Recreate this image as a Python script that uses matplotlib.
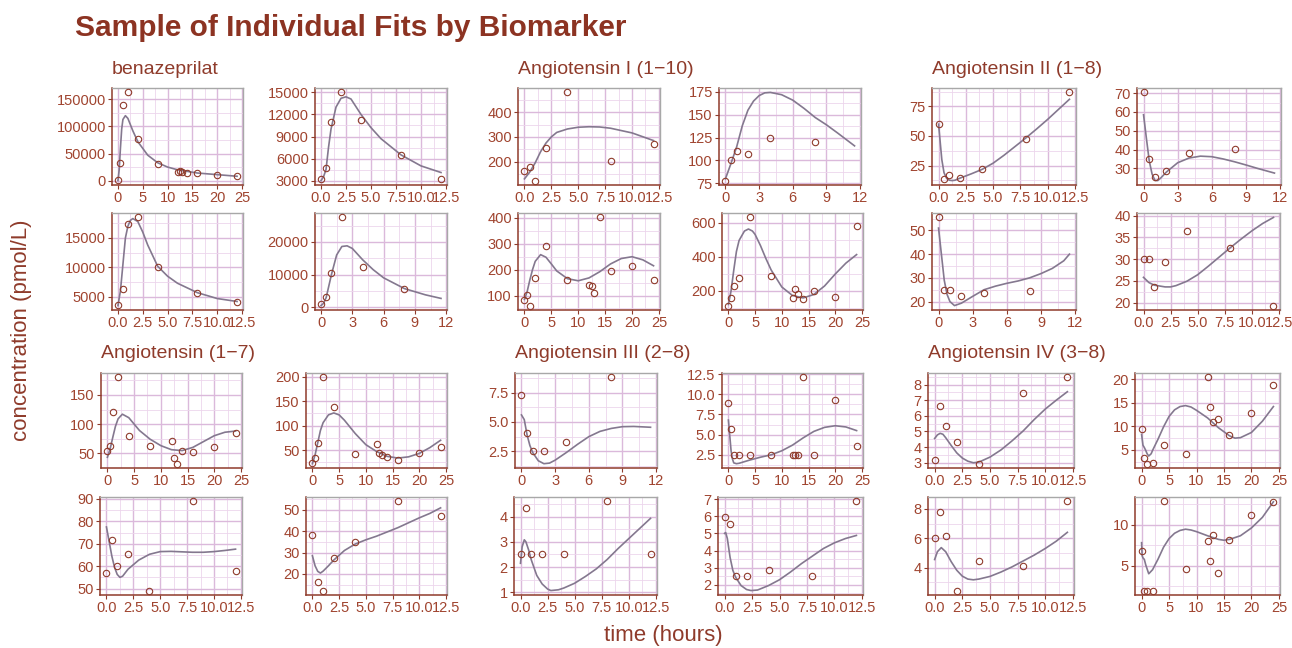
import numpy as np
import matplotlib.pyplot as plt

plt.rcParams['font.family'] = ['Liberation Sans', 'DejaVu Sans']

# sampling times (hours)
t_24h = [0, 0.5, 1, 2, 4, 8, 12, 12.5, 13, 14, 16, 20, 24]
t_12h = [0, 0.5, 1, 2, 4, 8, 12]
t_8h = [0, 0.5, 1, 2, 4, 8]

group_titles = ['benazeprilat', 'Angiotensin I (1\u221210)', 'Angiotensin II (1\u22128)',
                'Angiotensin (1\u22127)', 'Angiotensin III (2\u22128)', 'Angiotensin IV (3\u22128)']

# observed concentrations, 4 subjects per biomarker
bz1_obs = [1000, 33000, 140000, 163000, 77000, 30000, 16500, 17500, 16000, 14500, 14000, 10000, 8000]
bz2_obs = [3200, 4700, 11000, 15000, 11300, 6550, 3270]
bz3_obs = [3550, 6280, 17400, 18500, 10000, 5640, 4070]
bz4_obs = [1140, 3100, 10600, 27500, 12400, 5500]

a110_1_obs = [162, 180, 123, 254, 480, 203, 273]
a110_2_obs = [78, 100, 110, 107.5, 125, 120]
a110_3_obs = [81, 103, 61, 167, 290, 160, 141, 135, 109, 402, 193, 215, 161]
a110_4_obs = [113, 160, 225, 275, 630, 287, 160, 210, 180, 153, 196, 163, 580]

a18_1_obs = [60, 13.8, 16.9, 14.6, 22.2, 47.8, 86.8]
a18_2_obs = [70.4, 35.2, 25.2, 28.6, 38, 40.5]
a18_3_obs = [55.5, 24.9, 24.9, 22.5, 23.5, 24.5]
a18_4_obs = [30.1, 30.1, 23.5, 29.4, 36.4, 32.5, 19.3]

a17_1_obs = [53.4, 63, 120.8, 180.3, 78.7, 63, 71.3, 42, 32, 54.5, 51.7, 60, 85.4]
a17_2_obs = [23.3, 33.3, 65.3, 199, 138.7, 42.7, 63.3, 43.3, 40, 34.7, 29.3, 43.3, 56]
a17_3_obs = [57.1, 71.5, 60, 65.5, 49.1, 88.9, 57.9]
a17_4_obs = [38.1, 16.3, 12.2, 27.5, 34.8, 54, 47.1]

a28_1_obs = [7.3, 4.1, 2.5, 2.5, 3.3, 8.8]
a28_2_obs = [8.9, 5.7, 2.5, 2.5, 2.5, 2.5, 2.5, 2.5, 2.5, 12.1, 2.5, 9.3, 3.6]
a28_3_obs = [2.5, 4.36, 2.5, 2.5, 2.5, 4.6, 2.5]
a28_4_obs = [5.94, 5.55, 2.5, 2.5, 2.84, 2.5, 6.86]

a38_1_obs = [3.19, 6.62, 5.36, 4.34, 2.94, 7.48, 8.46]
a38_2_obs = [9.38, 3.26, 2.08, 2.22, 6.11, 4.17, 20.4, 14.2, 10.9, 11.6, 8.19, 12.8, 18.7]
a38_3_obs = [6.0, 7.77, 6.16, 2.44, 4.48, 4.11, 8.5]
a38_4_obs = [6.82, 1.95, 1.95, 1.95, 12.84, 4.58, 8.0, 5.55, 8.73, 4.07, 8.14, 11.19, 12.75]

# model fits (time, prediction)
bz1_fit_t = [0, 0.25, 0.5, 0.75, 1, 1.5, 2, 3, 4, 6, 8, 10, 12, 16, 20, 24]
bz1_fit = [0, 20000, 60000, 95000, 113000, 120000, 115000, 92000, 72000, 47000, 33000, 25000, 20000, 14000, 11000, 8000]
bz2_fit_t = [0, 0.25, 0.5, 0.75, 1, 1.5, 2, 2.5, 3, 4, 5, 6, 8, 10, 12]
bz2_fit = [3000, 3500, 4500, 7500, 10000, 13000, 14200, 14400, 14100, 12000, 10200, 8700, 6500, 5000, 4100]
bz3_fit_t = [0, 0.25, 0.5, 0.75, 1, 1.25, 1.5, 2, 2.5, 3, 4, 5, 6, 8, 10, 12]
bz3_fit = [3500, 6000, 10500, 15000, 17000, 18000, 18300, 17800, 16000, 13800, 10200, 8500, 7300, 5700, 4700, 4200]
bz4_fit_t = [0, 0.25, 0.5, 0.75, 1, 1.5, 2, 2.5, 3, 4, 5, 6, 8, 10, 11.5]
bz4_fit = [500, 1200, 3000, 6500, 10000, 16000, 18600, 18800, 18000, 14500, 11500, 9000, 5700, 3800, 2700]

a110_1_fit_t = [0, 0.5, 1, 1.5, 2, 2.5, 3, 4, 5, 6, 7, 8, 10, 12]
a110_1_fit = [130, 158, 195, 240, 275, 300, 318, 332, 339, 341, 340, 335, 316, 285]
a110_2_fit_t = [0, 0.5, 1, 1.5, 2, 2.5, 3, 3.5, 4, 5, 6, 7, 8, 9, 10, 11.5]
a110_2_fit = [80, 97, 115, 138, 155, 165, 171, 174, 174.5, 172, 166, 157, 147, 139, 130, 116]
a110_3_fit_t = [0, 0.5, 1, 1.5, 2, 3, 4, 5, 6, 8, 10, 12, 14, 16, 18, 20, 22, 24]
a110_3_fit = [85, 115, 160, 200, 232, 258, 248, 222, 195, 165, 157, 168, 192, 222, 243, 250, 238, 215]
a110_4_fit_t = [0, 0.5, 1, 1.5, 2, 3, 3.75, 4.5, 5, 6, 7, 8, 10, 12, 14, 16, 18, 20, 22, 24]
a110_4_fit = [120, 200, 320, 430, 495, 550, 562, 550, 530, 465, 390, 322, 222, 172, 158, 178, 228, 298, 362, 412]

a18_1_fit_t = [0, 0.15, 0.3, 0.5, 0.75, 1, 1.25, 1.5, 2, 3, 4, 5, 6, 7, 8, 9, 10, 11, 12]
a18_1_fit = [60, 45, 30, 19, 14, 12.6, 12.3, 12.6, 14.5, 18, 21.8, 27, 33.7, 41, 48.3, 56, 64, 72.5, 81]
a18_2_fit_t = [0, 0.25, 0.5, 0.75, 1, 1.25, 1.5, 2, 3, 4, 5, 6, 7, 8, 9, 10, 11.5]
a18_2_fit = [58.5, 46, 34, 27, 23.6, 23.5, 24.8, 28, 33, 35.5, 36.5, 36.2, 35, 33.5, 31.8, 30, 27.5]
a18_3_fit_t = [0, 0.25, 0.5, 0.75, 1, 1.4, 2, 3, 4, 5, 6, 7, 8, 9, 10, 11, 11.5]
a18_3_fit = [51, 40, 29, 23, 20, 18.3, 19.3, 22.2, 25, 26.5, 27.7, 28.7, 30, 31.8, 34, 37.2, 40]
a18_4_fit_t = [0, 0.5, 1, 1.5, 2, 2.5, 3, 4, 5, 6, 7, 8, 9, 10, 11, 12]
a18_4_fit = [25.8, 24.6, 24, 23.8, 23.6, 23.6, 23.9, 24.9, 26.4, 28.4, 30.5, 32.6, 34.6, 36.5, 38.2, 39.6]

a17_1_fit_t = [0, 0.5, 1, 1.5, 2, 2.8, 4, 5, 6, 8, 10, 12, 14, 16, 18, 20, 22, 24]
a17_1_fit = [43, 57, 77, 96, 109, 117, 111, 100, 89, 74, 63, 56, 54.5, 60, 70, 80, 86, 88]
a17_2_fit_t = [0, 0.5, 1, 1.5, 2, 3, 4, 5, 6, 8, 10, 12, 14, 16, 18, 20, 22, 24]
a17_2_fit = [22, 40, 65, 90, 106, 122, 126, 122, 111, 84, 61, 47, 37, 33.5, 36, 43, 55, 70]
a17_3_fit_t = [0, 0.25, 0.5, 0.75, 1, 1.25, 1.5, 2, 3, 4, 5, 6, 7, 8, 9, 10, 11, 12]
a17_3_fit = [77.5, 71, 64.5, 59.5, 56.3, 55, 55.5, 58.6, 62.7, 65.3, 66.5, 66.6, 66.4, 66.2, 66.2, 66.5, 67, 67.6]
a17_4_fit_t = [0, 0.25, 0.5, 0.75, 1, 1.5, 2, 3, 4, 5, 6, 7, 8, 9, 10, 11, 12]
a17_4_fit = [28.5, 23.8, 21.2, 20.4, 21.3, 23.8, 26.5, 31, 34, 36, 37.7, 39.7, 41.7, 44, 46.3, 48.4, 51]

a28_1_fit_t = [0, 0.25, 0.5, 0.75, 1, 1.5, 2, 2.5, 3, 4, 5, 6, 7, 8, 9, 10, 11.5]
a28_1_fit = [5.6, 5.2, 3.9, 3.0, 2.4, 1.7, 1.45, 1.5, 1.75, 2.4, 3.1, 3.75, 4.2, 4.45, 4.6, 4.62, 4.55]
a28_2_fit_t = [0, 0.25, 0.5, 0.75, 1, 1.5, 2, 4, 6, 8, 10, 12, 14, 16, 18, 20, 22, 24]
a28_2_fit = [6.8, 4.9, 3.0, 2.0, 1.5, 1.4, 1.45, 1.85, 2.2, 2.5, 3.0, 3.7, 4.6, 5.4, 5.9, 6.1, 5.95, 5.5]
a28_3_fit_t = [0, 0.15, 0.35, 0.5, 0.75, 1, 1.5, 2, 2.5, 2.8, 3.5, 4, 5, 6, 7, 8, 9, 10, 11, 12]
a28_3_fit = [2.15, 2.8, 3.08, 3.0, 2.68, 2.28, 1.67, 1.33, 1.13, 1.07, 1.1, 1.17, 1.36, 1.63, 1.93, 2.3, 2.73, 3.13, 3.53, 3.93]
a28_4_fit_t = [0, 0.1, 0.25, 0.5, 0.75, 1, 1.5, 2, 2.4, 3, 4, 5, 6, 7, 8, 9, 10, 11, 12]
a28_4_fit = [5.0, 5.05, 4.7, 3.6, 2.85, 2.45, 1.96, 1.73, 1.67, 1.7, 1.96, 2.3, 2.75, 3.24, 3.68, 4.12, 4.45, 4.7, 4.88]

a38_1_fit_t = [0, 0.25, 0.5, 0.75, 1, 1.5, 2, 2.5, 3, 3.5, 4, 5, 6, 7, 8, 9, 10, 11, 12]
a38_1_fit = [4.55, 4.78, 4.88, 4.82, 4.6, 4.1, 3.63, 3.3, 3.1, 3.0, 3.04, 3.36, 3.82, 4.4, 5.03, 5.76, 6.43, 7.0, 7.54]
a38_2_fit_t = [0, 0.25, 0.5, 0.75, 1, 1.3, 1.75, 2, 3, 4, 5, 6, 7, 8, 9, 10, 12, 14, 16, 17, 18, 20, 22, 24]
a38_2_fit = [8.3, 6.0, 5.5, 4.9, 4.2, 3.7, 4.2, 4.9, 7.3, 9.9, 12.1, 13.5, 14.2, 14.4, 14.1, 13.4, 11.8, 9.7, 8.0, 7.5, 7.6, 8.7, 11.1, 14.2]
a38_3_fit_t = [0, 0.25, 0.6, 1, 1.5, 2, 2.5, 3, 3.5, 4, 5, 6, 7, 8, 9, 10, 11, 12]
a38_3_fit = [4.55, 5.08, 5.36, 5.08, 4.4, 3.82, 3.42, 3.22, 3.17, 3.22, 3.4, 3.7, 4.05, 4.45, 4.85, 5.3, 5.8, 6.4]
a38_4_fit_t = [0, 0.1, 0.25, 0.5, 0.75, 1, 1.3, 2, 3, 4, 5, 6, 7, 8, 9, 10, 12, 14, 15, 16, 18, 20, 22, 24]
a38_4_fit = [7.8, 6.2, 5.95, 5.75, 5.1, 4.6, 4.0, 4.5, 5.8, 7.25, 8.3, 8.95, 9.3, 9.45, 9.35, 9.15, 8.65, 8.2, 8.1, 8.2, 8.65, 9.6, 10.9, 12.8]

# axis breaks
x_25 = [0, 5, 10, 15, 20, 25]
x_12 = [0, 3, 6, 9, 12]
x_125 = [0, 2.5, 5, 7.5, 10, 12.5]

# rows of panels: (obs times, obs, fit t, fit, x breaks, y breaks)
rows = [
    [(t_24h, bz1_obs, bz1_fit_t, bz1_fit, x_25, [0, 50000, 100000, 150000]),
     (t_12h, bz2_obs, bz2_fit_t, bz2_fit, x_125, [3000, 6000, 9000, 12000, 15000]),
     (t_12h, a110_1_obs, a110_1_fit_t, a110_1_fit, x_125, [200, 300, 400]),
     (t_8h, a110_2_obs, a110_2_fit_t, a110_2_fit, x_12, [75, 100, 125, 150, 175]),
     (t_12h, a18_1_obs, a18_1_fit_t, a18_1_fit, x_125, [25, 50, 75]),
     (t_8h, a18_2_obs, a18_2_fit_t, a18_2_fit, x_12, [30, 40, 50, 60, 70])],
    [(t_12h, bz3_obs, bz3_fit_t, bz3_fit, x_125, [5000, 10000, 15000]),
     (t_8h, bz4_obs, bz4_fit_t, bz4_fit, x_12, [0, 10000, 20000]),
     (t_24h, a110_3_obs, a110_3_fit_t, a110_3_fit, x_25, [100, 200, 300, 400]),
     (t_24h, a110_4_obs, a110_4_fit_t, a110_4_fit, x_25, [200, 400, 600]),
     (t_8h, a18_3_obs, a18_3_fit_t, a18_3_fit, x_12, [20, 30, 40, 50]),
     (t_12h, a18_4_obs, a18_4_fit_t, a18_4_fit, x_125, [20, 25, 30, 35, 40])],
    [(t_24h, a17_1_obs, a17_1_fit_t, a17_1_fit, x_25, [50, 100, 150]),
     (t_24h, a17_2_obs, a17_2_fit_t, a17_2_fit, x_25, [50, 100, 150, 200]),
     (t_8h, a28_1_obs, a28_1_fit_t, a28_1_fit, x_12, [2.5, 5.0, 7.5]),
     (t_24h, a28_2_obs, a28_2_fit_t, a28_2_fit, x_25, [2.5, 5.0, 7.5, 10.0, 12.5]),
     (t_12h, a38_1_obs, a38_1_fit_t, a38_1_fit, x_125, [3, 4, 5, 6, 7, 8]),
     (t_24h, a38_2_obs, a38_2_fit_t, a38_2_fit, x_25, [5, 10, 15, 20])],
    [(t_12h, a17_3_obs, a17_3_fit_t, a17_3_fit, x_125, [50, 60, 70, 80, 90]),
     (t_12h, a17_4_obs, a17_4_fit_t, a17_4_fit, x_125, [10, 20, 30, 40, 50]),
     (t_12h, a28_3_obs, a28_3_fit_t, a28_3_fit, x_125, [1, 2, 3, 4]),
     (t_12h, a28_4_obs, a28_4_fit_t, a28_4_fit, x_125, [2, 3, 4, 5, 6, 7]),
     (t_12h, a38_3_obs, a38_3_fit_t, a38_3_fit, x_125, [4, 6, 8]),
     (t_24h, a38_4_obs, a38_4_fit_t, a38_4_fit, x_25, [5, 10])],
]

# panel boxes in pixels: (top, bottom) per row, (left, right) per column
W, H = 1292, 648
row_tb = [(88, 185), (213, 310), (373, 468), (497, 595)]
col_lr = [
    [(112, 243), (315, 447), (518, 660), (719, 861), (932, 1076), (1137, 1281)],
    [(112, 243), (315, 447), (518, 660), (722, 863), (932, 1076), (1137, 1280)],
    [(101, 242), (306, 447), (515, 657), (722, 863), (928, 1074), (1135, 1280)],
    [(100, 242), (306, 447), (514, 657), (718, 863), (928, 1074), (1135, 1280)],
]

brown = '#8f3b2b'
tick_col = '#a0442f'
line_col = '#84788f'
grid_major = '#dbb9db'
grid_minor = '#ecd6ec'


def fmt(v, dec):
    return ('%.1f' % v) if dec else str(int(round(v)))


def expand(vals):
    lo, hi = min(vals), max(vals)
    pad = (hi - lo) * 0.05
    return lo - pad, hi + pad


fig = plt.figure(figsize=(W / 100, H / 100), dpi=100)

for r, row in enumerate(rows):
    top, bot = row_tb[r]
    for c, (t, y, ft, fy, xb, yb) in enumerate(row):
        l, rr = col_lr[r][c]
        ax = fig.add_axes([l / W, 1 - bot / H, (rr - l) / W, (bot - top) / H])
        ax.set_facecolor('white')
        ax.plot(ft, fy, color=line_col, lw=1.2, zorder=3)
        ax.plot(t, y, 'o', mfc='none', mec=brown, ms=4.6, mew=0.8, zorder=4)

        xs = xb[1] - xb[0]
        ys = yb[1] - yb[0]
        ax.set_xticks(xb)
        ax.set_xticklabels([fmt(v, xs % 1 != 0) for v in xb])
        ax.set_yticks(yb)
        ax.set_yticklabels([fmt(v, ys % 1 != 0 or any(v % 1 for v in yb)) for v in yb])
        ax.set_xticks(np.arange(xb[0] - 2 * xs - xs / 2, xb[-1] + 2 * xs, xs), minor=True)
        ax.set_yticks(np.arange(yb[0] - 2 * ys - ys / 2, yb[-1] + 2 * ys, ys), minor=True)
        ax.set_xlim(*expand(list(t) + list(ft)))
        ax.set_ylim(*expand(list(y) + list(fy)))

        ax.grid(which='major', color=grid_major, lw=1.0, zorder=0)
        ax.grid(which='minor', color=grid_minor, lw=0.6, zorder=0)
        ax.set_axisbelow(True)
        ax.tick_params(which='major', length=3, width=0.8, color=brown,
                       labelcolor=tick_col, labelsize=10.5, pad=1.5)
        ax.tick_params(which='minor', length=0)
        for s in ['left', 'bottom']:
            ax.spines[s].set_color(brown)
            ax.spines[s].set_linewidth(1.1)
        for s in ['top', 'right']:
            ax.spines[s].set_color('#a8a8a8')
            ax.spines[s].set_linewidth(1.0)

# biomarker group titles
title_pos = [(112, 70), (518, 70), (932, 70), (101, 354), (515, 354), (928, 354)]
for name, (x, y) in zip(group_titles, title_pos):
    fig.text(x / W, 1 - y / H, name, ha='left', va='center', fontsize=14, color=brown)

fig.text(75 / W, 1 - 28 / H, 'Sample of Individual Fits by Biomarker', ha='left', va='center',
         fontsize=21.5, fontweight='bold', color='#8c3322')
fig.text(22 / W, 1 - 330 / H, 'concentration (pmol/L)', rotation=90, ha='center', va='center',
         fontsize=16, color=brown)
fig.text(663 / W, 1 - 636 / H, 'time (hours)', ha='center', va='center', fontsize=16, color=brown)

fig.savefig('out.png', dpi=100)
